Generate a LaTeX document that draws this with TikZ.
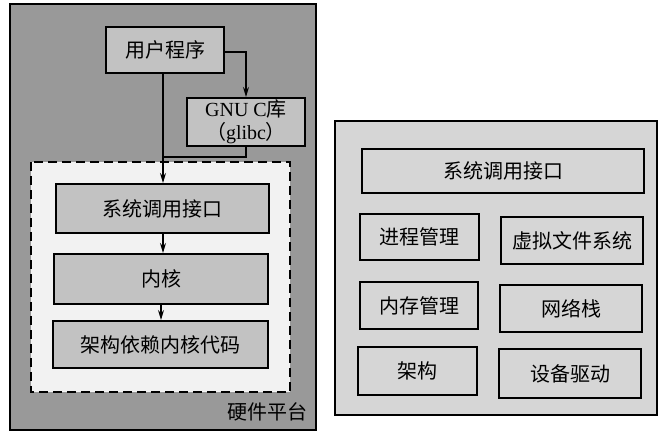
\documentclass[tikz,border=0pt]{standalone}
\usepackage{fontspec}
\setmainfont{Liberation Serif}
\newfontfamily\cjk{Noto Sans CJK SC}
\usetikzlibrary{arrows.meta}
\definecolor{outergray}{gray}{0.60}
\definecolor{boxgray}{gray}{0.76}
\definecolor{whitish}{gray}{0.95}
\definecolor{rightgray}{gray}{0.84}
\tikzset{
  blk/.style={draw=black, line width=2pt, fill=boxgray},
  rblk/.style={draw=black, line width=2pt, fill=rightgray},
  lbl/.style={font=\cjk\fontsize{20}{23}\selectfont, inner sep=0pt},
  conn/.style={draw=black, line width=1.2pt},
  arr/.style={conn, -{Stealth[length=10pt,width=6pt]}}
}
\begin{document}
\begin{tikzpicture}[x=1pt,y=-1pt]
\useasboundingbox (0,0) rectangle (659,438);
\fill[white] (0,0) rectangle (659,438);
% left outer
\draw[line width=2pt, fill=outergray] (10,4) rectangle (316,430);
\draw[line width=2pt, dash pattern=on 9pt off 5pt, fill=whitish] (31,162) rectangle (290,392);
\node[blk, minimum width=118pt, minimum height=46pt, anchor=north west] (user) at (105,26) {};
\node[lbl] at (user.center) {用户程序};
\node[blk, minimum width=118pt, minimum height=48pt, anchor=north west] (glibc) at (186,97) {};
\node[inner sep=0pt, align=center, font=\fontsize{20}{23}\selectfont] at (glibc.center) {GNU C{\cjk 库}\\[0pt]{\cjk （}glibc{\cjk ）}};
\node[blk, minimum width=213pt, minimum height=49pt, anchor=north west] (sci) at (55,183) {};
\node[lbl] at (sci.center) {系统调用接口};
\node[blk, minimum width=214pt, minimum height=50pt, anchor=north west] (kern) at (53,253) {};
\node[lbl] at (kern.center) {内核};
\node[blk, minimum width=215pt, minimum height=47pt, anchor=north west] (arch) at (52,320) {};
\node[lbl] at (arch.center) {架构依赖内核代码};
\node[lbl, anchor=east] (hw) at (308,412) {硬件平台};
% connectors
\coordinate (ua) at (163,72);
\coordinate (join) at (163,157);
\coordinate (ur) at (223,52);
\coordinate (ct) at (246,52);
\draw[arr] (user.south -| ua) -- (sci.north -| ua);
\draw[arr] (ur) -- (ct) -- (glibc.north -| ct);
\draw[conn] (glibc.south -| ct) -- (ct |- join) -- (join);
\draw[arr] (sci.south -| ua) -- (kern.north -| ua);
\draw[arr] (kern.south -| 161,0) -- (arch.north -| 161,0);
% right
\draw[line width=2pt, fill=rightgray] (335,121) rectangle (657,415);
\node[rblk, minimum width=282pt, minimum height=44pt, anchor=north west] (rsci) at (361,148) {};
\node[lbl] at (rsci.center) {系统调用接口};
\node[rblk, minimum width=119pt, minimum height=46pt, anchor=north west] (proc) at (359,213) {};
\node[lbl] at (proc.center) {进程管理};
\node[rblk, minimum width=142pt, minimum height=47pt, anchor=north west] (vfs) at (500,216) {};
\node[lbl] at (vfs.center) {虚拟文件系统};
\node[rblk, minimum width=118pt, minimum height=47pt, anchor=north west] (mem) at (359,281) {};
\node[lbl] at (mem.center) {内存管理};
\node[rblk, minimum width=142pt, minimum height=47pt, anchor=north west] (net) at (499,284) {};
\node[lbl] at (net.center) {网络栈};
\node[rblk, minimum width=119pt, minimum height=48pt, anchor=north west] (rarch) at (357,346) {};
\node[lbl] at (rarch.center) {架构};
\node[rblk, minimum width=142pt, minimum height=49pt, anchor=north west] (dev) at (498,348) {};
\node[lbl] at (dev.center) {设备驱动};
\end{tikzpicture}
\end{document}
